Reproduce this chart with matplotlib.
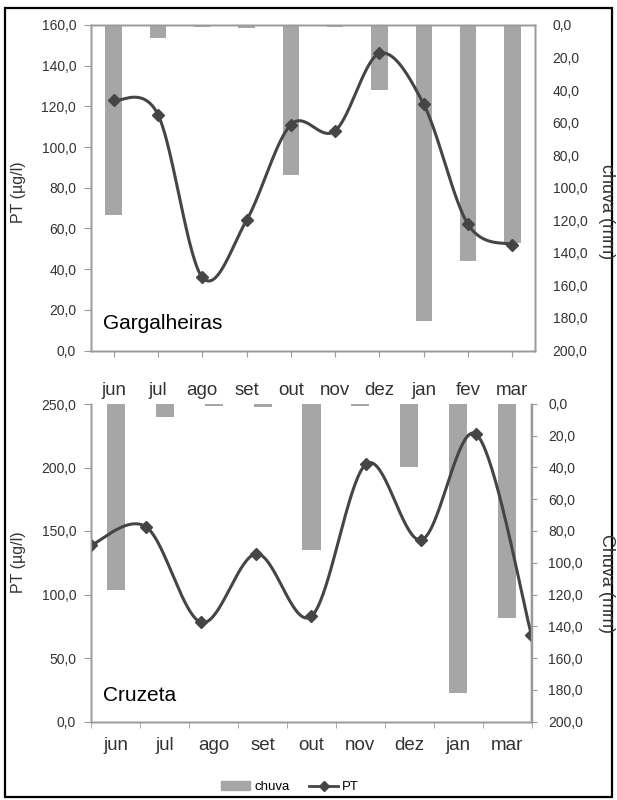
import numpy as np
import matplotlib
matplotlib.use('Agg')
import matplotlib.pyplot as plt
from matplotlib.patches import Patch, Rectangle
from matplotlib.lines import Line2D

# Gargalheiras
meses_garg = ['jun', 'jul', 'ago', 'set', 'out', 'nov', 'dez', 'jan', 'fev', 'mar']
chuva_garg = [117, 8, 1, 2, 92, 1, 40, 182, 145, 134]
pt_garg = [123, 116, 36, 64, 111, 108, 146, 121, 62, 52]

# Cruzeta (sem fev)
meses_cruz = ['jun', 'jul', 'ago', 'set', 'out', 'nov', 'dez', 'jan', 'mar']
chuva_cruz = [117, 8, 1, 2, 92, 1, 40, 182, 135]
pt_cruz = [139, 153, 78, 132, 83, 203, 143, 226, 68]

COR_BARRA = '#a6a6a6'
COR_LINHA = '#454545'
COR_EIXO = '#9a9a9a'
COR_TEXTO = '#333333'
FONTE = ['Liberation Sans', 'DejaVu Sans']
FONTE_MES = ['Liberation Sans Narrow', 'Liberation Sans', 'DejaVu Sans']

plt.rcParams['font.family'] = FONTE


def suave(x, y, n=40):
    # linha suavizada tipo Excel (catmull-rom), so para desenhar
    x = np.asarray(x, float)
    y = np.asarray(y, float)
    px = np.r_[x[0], x, x[-1]]
    py = np.r_[y[0], y, y[-1]]
    t = np.linspace(0, 1, n)
    xs, ys = [], []
    for i in range(1, len(px) - 2):
        p0 = np.array([px[i], py[i]])
        p3 = np.array([px[i + 1], py[i + 1]])
        c1 = p0 + (p3 - np.array([px[i - 1], py[i - 1]])) / 6.0
        c2 = p3 - (np.array([px[i + 2], py[i + 2]]) - p0) / 6.0
        b = ((1 - t) ** 3)[:, None] * p0 + (3 * (1 - t) ** 2 * t)[:, None] * c1 \
            + (3 * (1 - t) * t ** 2)[:, None] * c2 + (t ** 3)[:, None] * p3
        xs.extend(b[:, 0])
        ys.extend(b[:, 1])
    return xs, ys


def fmt(v):
    return ('%.1f' % v).replace('.', ',')


def grafico(fig, pos, meses, chuva, pt, ymax, ystep, nome, rot_chuva, entre):
    ax = fig.add_axes(pos)
    ax2 = ax.twinx()
    ax3 = ax.twiny()
    n = len(meses)
    xb = np.arange(n)

    ax2.bar(xb, chuva, width=0.37, color=COR_BARRA, zorder=2)
    ax2.set_ylim(200, 0)
    ax2.set_yticks(np.arange(0, 201, 20))
    ax2.set_yticklabels([fmt(v) for v in np.arange(0, 201, 20)])

    ax.set_xlim(-0.5, n - 0.5)
    ax2.set_xlim(-0.5, n - 0.5)
    ax.set_ylim(0, ymax)
    ax.set_yticks(np.arange(0, ymax + 1, ystep))
    ax.set_yticklabels([fmt(v) for v in np.arange(0, ymax + 1, ystep)])

    if entre:
        xl = np.arange(n)
        ax3.set_xlim(0, n - 1)
        ax.set_xticks(xb)
        ax.set_xticks(np.arange(-0.5, n, 1.0), minor=True)
        ax.tick_params(axis='x', which='major', length=0, pad=11)
        ax.tick_params(axis='x', which='minor', length=4, direction='out', color=COR_EIXO)
        ax2.tick_params(axis='y', length=4, direction='out', color=COR_EIXO, pad=8)
    else:
        xl = xb
        ax3.set_xlim(-0.5, n - 0.5)
        ax.set_xticks(xb)
        ax.tick_params(axis='x', length=4, direction='out', color=COR_EIXO, pad=19)
        ax2.tick_params(axis='y', length=0, pad=13)
    ax.set_xticklabels(meses, fontsize=13.5, family=FONTE_MES, color=COR_TEXTO)

    xs, ys = suave(xl, pt)
    ax3.plot(xs, ys, color=COR_LINHA, lw=2.2, solid_capstyle='round')
    ax3.plot(xl, pt, ls='none', marker='D', ms=6.5, color=COR_LINHA)
    ax3.xaxis.set_visible(False)
    ax3.set_ylim(0, ymax)

    ax.tick_params(axis='y', length=5, direction='out', color=COR_EIXO, pad=6,
                   labelsize=10, labelcolor=COR_TEXTO)
    ax2.tick_params(axis='y', labelsize=10, labelcolor=COR_TEXTO)

    for a in (ax, ax2, ax3):
        for s in a.spines.values():
            s.set_color(COR_EIXO)
            s.set_linewidth(1.0)
        if entre:
            a.spines['top'].set_visible(False)

    ax.text(0.027, 0.065, nome, transform=ax.transAxes, fontsize=15, color='black')
    return ax, ax2


fig = plt.figure(figsize=(6.17, 8.0), dpi=100)

ax_g, ax_g2 = grafico(fig, [91.5 / 617, 1 - 350.5 / 800, 443 / 617, 325.5 / 800],
                      meses_garg, chuva_garg, pt_garg, 160, 20, 'Gargalheiras', 'chuva (mm)', False)
ax_c, ax_c2 = grafico(fig, [91.5 / 617, 1 - 721.5 / 800, 440 / 617, 317.5 / 800],
                      meses_cruz, chuva_cruz, pt_cruz, 250, 50, 'Cruzeta', 'Chuva (mm)', True)

fig.text(18 / 617, 1 - 192 / 800, 'PT (µg/l)', rotation=90, ha='center', va='center',
         fontsize=11.5, color=COR_TEXTO)
fig.text(18 / 617, 1 - 562 / 800, 'PT (µg/l)', rotation=90, ha='center', va='center',
         fontsize=11.5, color=COR_TEXTO)
fig.text(606 / 617, 1 - 212 / 800, 'chuva (mm)', rotation=270, ha='center', va='center',
         fontsize=13, color=COR_TEXTO)
fig.text(606 / 617, 1 - 584 / 800, 'Chuva (mm)', rotation=270, ha='center', va='center',
         fontsize=13, color=COR_TEXTO)

handles = [Patch(color=COR_BARRA),
           Line2D([], [], color=COR_LINHA, lw=2, marker='D', ms=5)]
fig.legend(handles, ['chuva', 'PT'], loc='center', bbox_to_anchor=(0.47, 1 - 787 / 800),
           ncol=2, frameon=False, fontsize=9, handlelength=2.2, handletextpad=0.3,
           columnspacing=1.5, prop={'family': FONTE_MES, 'size': 9.5})

fig.add_artist(Rectangle((5 / 617, 3 / 800), 607 / 617, 789.5 / 800, transform=fig.transFigure,
                         fill=False, ec='black', lw=1.6))

fig.savefig('out.png', dpi=100)
